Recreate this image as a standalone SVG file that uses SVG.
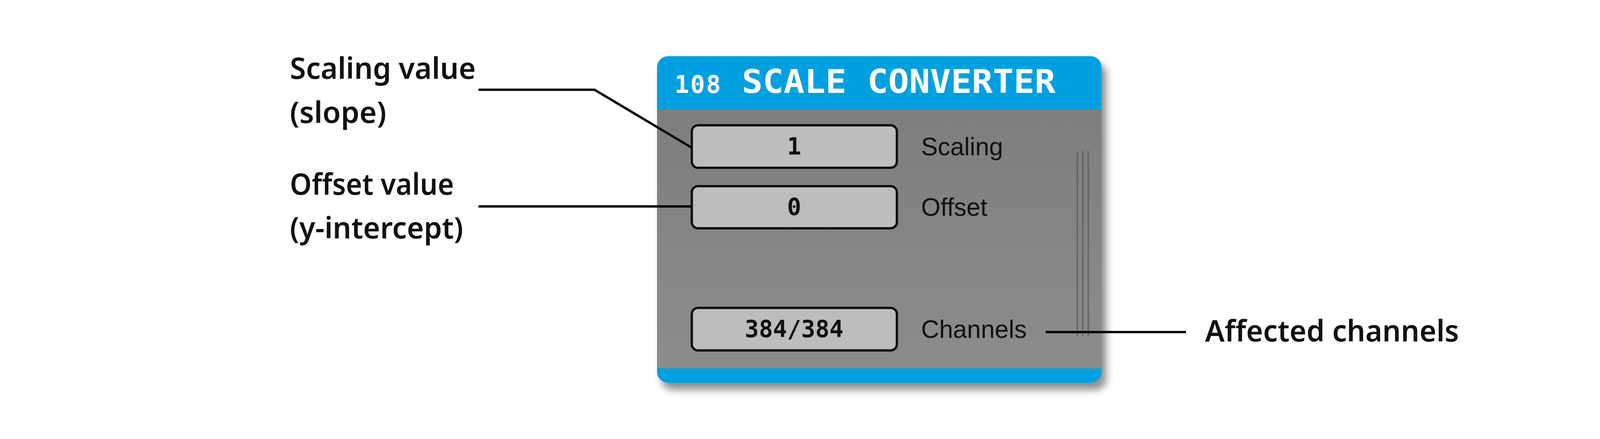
<svg xmlns="http://www.w3.org/2000/svg" width="4500" height="1125" viewBox="0 0 4500 1125">
<defs>
<filter id="sh" x="-10%" y="-10%" width="125%" height="125%"><feDropShadow dx="12" dy="18" stdDeviation="10" flood-color="#000" flood-opacity="0.45"/></filter>
<linearGradient id="g" x1="0" y1="0" x2="0" y2="1"><stop offset="0" stop-color="#7e7e7e"/><stop offset="1" stop-color="#8c8c8c"/></linearGradient>
<clipPath id="cp"><rect x="1682" y="144" width="1138" height="837" rx="28"/></clipPath>
</defs>
<style>
.lbl{font-family:"Noto Sans","Open Sans",sans-serif;font-weight:600;font-size:76px;fill:#111}
.pl{font-family:"Liberation Sans","Helvetica",sans-serif;font-size:64px;fill:#111}
.fld{fill:#bdbdbd;stroke:#111;stroke-width:6}
.val{font-family:"DejaVu Sans Mono",monospace;font-weight:bold;font-size:60px;fill:#111;text-anchor:middle}
.ln{stroke:#000;stroke-width:6;fill:none}
</style>
<rect width="4500" height="1125" fill="#fff"/>
<g id="panel">
<g filter="url(#sh)"><rect x="1682" y="144" width="1138" height="837" rx="28" fill="#00a0e0"/></g>
<g clip-path="url(#cp)">
<rect x="1682" y="281" width="1138" height="663" fill="url(#g)"/>
</g>
<text x="1727" y="238" font-family="DejaVu Sans Mono,monospace" font-weight="bold" font-size="62" fill="#fff" textLength="118">108</text>
<text x="1899" y="238" font-family="DejaVu Sans Mono,monospace" font-weight="bold" font-size="84" fill="#fff" textLength="803" lengthAdjust="spacingAndGlyphs">SCALE CONVERTER</text>
<g stroke="#666" stroke-width="4"><line x1="2758" y1="387" x2="2758" y2="860"/><line x1="2772" y1="387" x2="2772" y2="860"/><line x1="2786" y1="387" x2="2786" y2="860"/></g>
</g>
<g id="scaling"><rect class="fld" x="1771" y="321" width="525" height="109" rx="16"/><text class="val" x="2033" y="396">1</text><text class="pl" x="2358" y="398">Scaling</text></g>
<g id="offset"><rect class="fld" x="1771" y="477" width="525" height="108" rx="16"/><text class="val" x="2033" y="551">0</text><text class="pl" x="2358" y="553">Offset</text></g>
<g id="channels"><rect class="fld" x="1771" y="789" width="525" height="109" rx="16"/><text class="val" x="2033" y="864">384/384</text><text class="pl" x="2358" y="866">Channels</text></g>
<g id="labels">
<text class="lbl" x="742" y="202" textLength="476" lengthAdjust="spacingAndGlyphs">Scaling value</text>
<text class="lbl" x="742" y="315">(slope)</text>
<text class="lbl" x="742" y="499" textLength="420" lengthAdjust="spacingAndGlyphs">Offset value</text>
<text class="lbl" x="742" y="611" textLength="444" lengthAdjust="spacingAndGlyphs">(y-intercept)</text>
<text class="lbl" x="3085" y="875" textLength="650" lengthAdjust="spacingAndGlyphs">Affected channels</text>
</g>
<g id="connectors">
<polyline class="ln" points="1225,230 1522,230 1770,378"/>
<line class="ln" x1="1225" y1="529" x2="1771" y2="529"/>
<line class="ln" x1="2677" y1="851" x2="3036" y2="851"/>
</g>
</svg>
